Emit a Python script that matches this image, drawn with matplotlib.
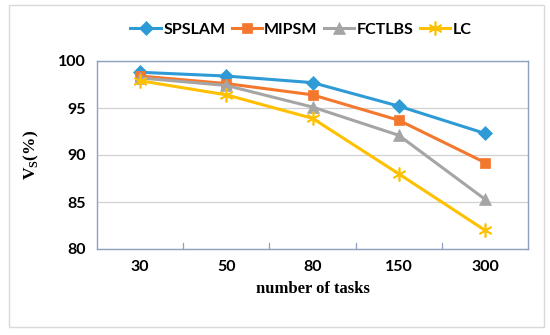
import matplotlib
matplotlib.use("Agg")
import matplotlib.pyplot as plt
from matplotlib.patches import Rectangle

# ---------------------------------------------------------------------------
# Data
# ---------------------------------------------------------------------------
tasks = ["30", "50", "80", "150", "300"]
spslam = [98.8, 98.4, 97.7, 95.2, 92.3]
mipsm = [98.4, 97.6, 96.4, 93.7, 89.2]
fctlbs = [98.2, 97.4, 95.1, 92.1, 85.3]
lc = [97.9, 96.4, 93.9, 88.0, 82.0]
y_ticks = [80, 85, 90, 95, 100]

series = [
    ("SPSLAM", spslam, "#2E9BD6", "D", 7),
    ("MIPSM", mipsm, "#F4772E", "s", 7),
    ("FCTLBS", fctlbs, "#A5A5A5", "^", 8),
    ("LC", lc, "#FFC000", (6, 2, 0), 10),
]
TICK_FONT = "Lato"

# ---------------------------------------------------------------------------
# Plot
# ---------------------------------------------------------------------------
fig = plt.figure(figsize=(5.5, 3.35), dpi=100)
ax = fig.add_axes([97 / 550, 1 - 249 / 335, 431 / 550, 188 / 335])

x = list(range(len(tasks)))
for name, vals, color, marker, ms in series:
    ax.plot(x, vals, color=color, linewidth=2.2, marker=marker,
            markersize=ms, markeredgewidth=1.2 if marker == (6, 2, 0) else 0.5,
            markeredgecolor=color, label=name)

ax.set_xlim(-0.5, len(tasks) - 0.5)
ax.set_ylim(80, 100)
ax.set_yticks(y_ticks)
ax.set_xticks(x)
ax.set_xticklabels(tasks)
ax.tick_params(axis="both", length=0, labelsize=11.5, pad=8)
for lab in ax.get_xticklabels() + ax.get_yticklabels():
    lab.set_fontweight("bold")
    lab.set_family(TICK_FONT)

# small category separators on the x axis
for b in [0.5, 1.5, 2.5, 3.5]:
    ax.plot([b, b], [80, 80.6], color="#8EA0BE", linewidth=0.9,
            clip_on=False)

ax.grid(axis="y", color="#D0D0D0", linewidth=0.9)
ax.set_axisbelow(True)
for s in ax.spines.values():
    s.set_color("#8EA0BE")
    s.set_linewidth(1.0)

ax.set_xlabel("number of tasks", family="Liberation Serif",
              fontweight="bold", fontsize=12, labelpad=5)
ax.set_ylabel(r"V$_\mathregular{S}$(%)", family="Liberation Serif",
              fontweight="bold", fontsize=12.5, labelpad=12)

leg = fig.legend(loc="center", bbox_to_anchor=(301 / 550, 1 - 30 / 335),
                 ncol=4, frameon=False, handlelength=1.9,
                 columnspacing=0.4, handletextpad=0.15,
                 prop={"family": TICK_FONT, "weight": "bold",
                       "size": 11.5})

# outer light border of the chart
fig.patches.append(Rectangle((9 / 550, 1 - 327 / 335), 535 / 550, 322 / 335,
                             transform=fig.transFigure, fill=False,
                             edgecolor="#D9D9D9", linewidth=1.0))

plt.savefig("out.png", dpi=100)
